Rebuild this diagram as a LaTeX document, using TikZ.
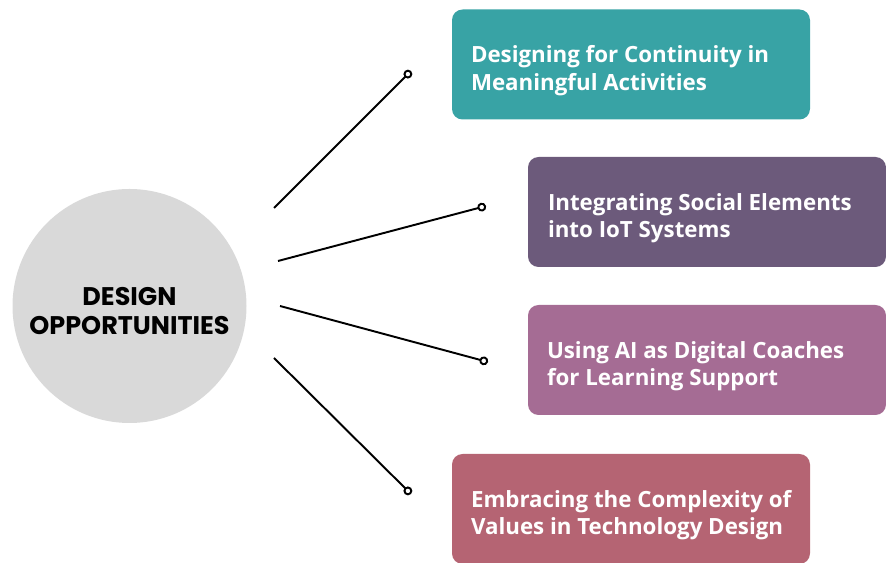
\documentclass[tikz,border=0pt]{standalone}
\usepackage{fontspec}
\setmainfont{Open Sans}
\newfontfamily\hubfont{Poppins}
\usetikzlibrary{arrows.meta}
\definecolor{hubgray}{HTML}{D9D9D9}
\definecolor{boxteal}{HTML}{38A3A5}
\definecolor{boxplum}{HTML}{6C5A7B}
\definecolor{boxmauve}{HTML}{A56C94}
\definecolor{boxrose}{HTML}{B56473}
\tikzset{
	oppbox/.style={rounded corners=6pt, minimum width=7.16cm, minimum height=2.2cm},
	opptext/.style={anchor=west, inner sep=0pt, text=white, align=left, font=\fontsize{12.7}{15.6}\selectfont\bfseries},
	spoke/.style={line width=1.1pt, -{Circle[open,length=5pt,line width=1.1pt]}}
}
\begin{document}
\begin{tikzpicture}
	\useasboundingbox (0,0) rectangle (17.72,11.26);
	\clip (0,0) rectangle (17.72,11.26);
	\node[circle, fill=hubgray, minimum size=4.68cm] (hub) at (2.59,5.14) {};
	\node[align=center, font=\hubfont\fontsize{14.5}{16.5}\selectfont\bfseries] (hublabel) at ([yshift=-0.1cm]hub.center) {DESIGN\\OPPORTUNITIES};

	\node[oppbox, fill=boxteal] (continuity) at (12.62,9.97) {};
	\node[opptext] (continuitytext) at ([xshift=0.38cm,yshift=-0.12cm]continuity.west) {Designing for Continuity in\\Meaningful Activities};
	\node[oppbox, fill=boxplum] (social) at (14.14,7.02) {};
	\node[opptext] (socialtext) at ([xshift=0.40cm,yshift=-0.12cm]social.west) {Integrating Social Elements\\into IoT Systems};
	\node[oppbox, fill=boxmauve] (coach) at (14.14,4.06) {};
	\node[opptext] (coachtext) at ([xshift=0.38cm,yshift=-0.12cm]coach.west) {Using AI as Digital Coaches\\for Learning Support};
	\node[oppbox, fill=boxrose] (values) at (12.62,1.08) {};
	\node[opptext] (valuestext) at ([xshift=0.38cm,yshift=-0.12cm]values.west) {Embracing the Complexity of\\Values in Technology Design};

	% spokes
	\coordinate (s1) at (5.48,7.10); \coordinate (e1) at (8.22,9.84);
	\coordinate (s2) at (5.56,6.04); \coordinate (e2) at (9.72,7.14);
	\coordinate (s3) at (5.60,5.14); \coordinate (e3) at (9.76,4.02);
	\coordinate (s4) at (5.48,4.10); \coordinate (e4) at (8.22,1.38);
	\draw[spoke] (s1) -- (e1);
	\draw[spoke] (s2) -- (e2);
	\draw[spoke] (s3) -- (e3);
	\draw[spoke] (s4) -- (e4);
\end{tikzpicture}
\end{document}
